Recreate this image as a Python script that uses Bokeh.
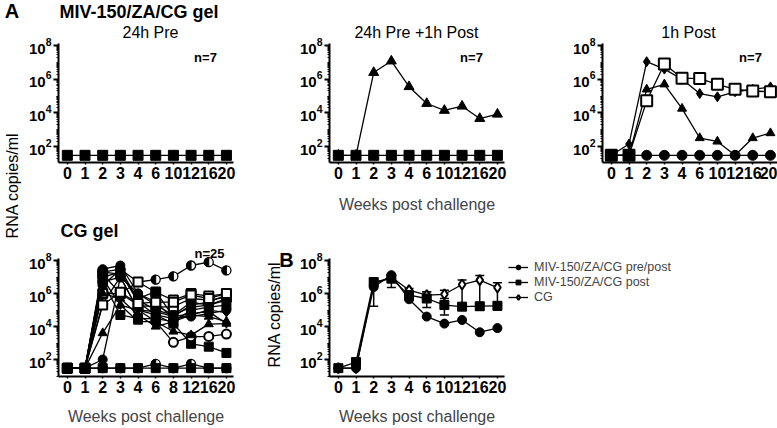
import math
from bokeh.plotting import figure
from bokeh.models import (Range1d, FixedTicker, Label, Legend, LegendItem,
                          Whisker, TeeHead, ColumnDataSource)
from bokeh.layouts import row, column
from bokeh.embed import file_html
from bokeh.resources import INLINE

FONT = "Liberation Sans"
NAN = float("nan")

# ---------------- data ----------------
weeks_a = ["0", "1", "2", "3", "4", "6", "10", "12", "16", "20"]
weeks_cg = ["0", "1", "2", "3", "4", "6", "8", "12", "16", "20"]
y_ticks = [1e2, 1e4, 1e6, 1e8]

# A: MIV-150/ZA/CG gel, 24h Pre
pre_sq = [30, 30, 30, 30, 30, 30, 30, 30, 30, 30]
# A: 24h Pre + 1h Post
pp_tri = [30, 30, 2.5e6, 1.2e7, 3.6e5, 3.6e4, 1.4e4, 2.5e4, 4.6e3, 8.3e3]
pp_sq = [30, 30, 30, 30, 30, 30, 30, 30, 30, 30]
# A: 1h Post
post_circ = [30, 30, 30, 30, 30, 30, 30, 30, 30, 30]
post_dia = [30, 140, 1.1e7, 4.0e6, 1.0e6, 1.4e5, 9.0e4, 1.8e5, 2.5e5, 3.5e5]
post_tri = [30, 30, 2.5e5, 5.0e5, 1.8e4, 320, 200, 30, 320, 630]
post_osq = [30, 30, 5.2e4, 8.0e6, 1.15e6, 1.1e6, 5.0e5, 2.5e5, 2.0e5, 1.8e5]
post_sq = [30, 30, NAN, NAN, NAN, NAN, NAN, NAN, NAN, NAN]

# A: CG gel (individual animals)
cg_01 = [30, 30, 2.0e7, 3.0e7, 5.0e6, 7.0e6, 1.1e7, 5.0e7, 8.0e7, 2.5e7]
cg_02 = [30, 30, 1.5e7, 1.0e6, 5.0e6, 1.2e6, 4.0e5, 1.0e6, 7.0e5, 1.0e6]
cg_03 = [30, 30, 3.0e7, 5.0e7, 1.0e6, 2.0e5, 5.0e4, 3.0e5, 2.0e5, 5.0e5]
cg_04 = [30, 30, 1.0e7, 2.0e7, 3.0e5, 5.0e4, 1.5e4, 900, 600, 250]
cg_05 = [30, 30, 5.0e6, 1.0e7, 1.0e5, 2.0e4, 1.1e3, 2.4e3, 2.5e3, 3.5e3]
cg_06 = [30, 30, 4.0e3, 2.0e5, 2.0e4, 2.0e4, 5.0e3, 3.0e3, 1.4e4, 1.5e4]
cg_07 = [30, 30, 2.5e5, 1.0e7, 1.0e5, 5.0e4, 3.0e4, 5.0e4, 1.0e5, 7.0e4]
cg_08 = [30, 30, 1.0e6, 1.0e6, 2.0e5, 1.5e5, 1.6e5, 5.0e5, 4.0e5, 6.0e5]
cg_09 = [30, 30, 5.0e6, 5.0e4, 3.0e4, 3.0e4, 2.0e4, 1.0e5, 1.5e5, 2.0e5]
cg_10 = [30, 30, 100, 1.0e7, 1.0e6, 3.0e5, 3.0e4, 4.0e4, 6.0e4, 1.0e5]
cg_11 = [30, 30, 2.0e7, 1.5e7, 5.0e5, 1.3e6, 4.0e4, 2.0e5, 3.0e5, 8.0e5]
cg_12 = [30, 30, 1.0e6, 5.0e5, 5.0e4, 1.0e4, 2.0e4, 5.0e4, 4.0e4, 2.0e4]
cg_13 = [30, 30, 8.0e6, 2.0e5, 1.0e5, 8.0e4, 4.0e4, 6.0e4, 8.0e4, 1.5e4]
cg_14 = [30, 30, 3.0e6, 3.0e7, 4.0e5, 1.0e5, 5.0e4, 1.5e5, 2.0e5, 4.0e5]
cg_17 = [30, 30, 2.0e5, 1.2e6, 2.5e5, 3.0e5, 3.0e5, 8.0e5, 5.0e5, 1.0e6]
cg_16 = [30, 30, 30, 30, 30, 55, 30, 55, 30, 30]
cg_15 = [30, 30, 30, 30, 30, 30, 30, 30, 30, 30]

# B: group means with error bars
b_pp = [30, 30, 2.5e6, 1.3e7, 4.5e5, 4.0e4, 1.5e4, 2.5e4, 4.5e3, 8.0e3]
b_post = [30, 70, 5.0e6, 8.0e6, 8.0e5, 5.0e5, 2.0e5, 1.6e5, 1.7e5, 1.8e5]
b_post_lo = [30, 70, 1.7e5, 2.3e6, 6.0e5, 1.4e5, 5.0e4, 1.0e5, 1.0e5, 1.0e5]
b_post_hi = [30, 70, 6.0e6, 1.0e7, 1.0e6, 1.3e6, 5.0e5, 2.5e5, 2.5e5, 3.0e5]
b_cg = [30, 30, 4.0e6, 1.0e7, 1.6e6, 8.0e5, 9.0e5, 3.5e6, 6.5e6, 2.3e6]
b_cg_lo = [30, 30, 2.5e6, 7.0e6, 1.2e6, 3.0e5, 2.0e5, 2.0e5, 2.0e5, 2.0e5]
b_cg_hi = [30, 30, 6.0e6, 1.3e7, 2.0e6, 1.3e6, 1.6e6, 6.6e6, 1.25e7, 4.5e6]
legend_labels = ["MIV-150/ZA/CG pre/post", "MIV-150/ZA/CG post", "CG"]

# ---------------- helpers ----------------
minor = [m * 10 ** e for e in range(1, 8) for m in range(2, 10)] + [10 ** e for e in (1, 3, 5, 7)]


def panel(labels, fw, fh, bl, br, bt, bb, y_lo, y_hi, y_top, xlabel=None):
    p = figure(frame_width=fw, frame_height=fh, y_axis_type="log",
               x_range=Range1d(-0.5, 9.4), y_range=Range1d(10 ** y_lo, 10 ** y_top),
               output_backend="svg", toolbar_location=None,
               min_border_left=bl, min_border_right=br,
               min_border_top=bt, min_border_bottom=bb)
    p.outline_line_color = None
    p.grid.grid_line_color = None
    p.background_fill_color = "white"
    xa = p.xaxis[0]
    xa.ticker = FixedTicker(ticks=list(range(len(labels))))
    xa.major_label_overrides = {i: s for i, s in enumerate(labels)}
    xa.major_label_text_font = FONT
    xa.major_label_text_font_style = "bold"
    xa.major_label_text_font_size = "16px"
    xa.major_label_text_color = "black"
    xa.axis_line_width = 2
    xa.major_tick_in = 0
    xa.major_tick_out = 2
    xa.major_tick_line_width = 1.5
    xa.minor_tick_line_color = None
    xa.major_label_standoff = 2
    ya = p.yaxis[0]
    ya.bounds = (10 ** y_lo, 10 ** y_hi)
    ya.ticker = FixedTicker(ticks=y_ticks, minor_ticks=minor)
    ya.major_label_text_font = FONT
    ya.major_label_text_font_style = "bold"
    ya.major_label_text_font_size = "15px"
    ya.major_label_text_color = "black"
    ya.axis_line_width = 2
    ya.major_tick_in = 0
    ya.major_tick_out = 5
    ya.major_tick_line_width = 2
    ya.minor_tick_in = 0
    ya.minor_tick_out = 2
    ya.minor_tick_line_width = 1
    ya.major_label_standoff = 2
    if xlabel:
        xa.axis_label = xlabel
        xa.axis_label_text_font = FONT
        xa.axis_label_text_font_style = "normal"
        xa.axis_label_text_font_size = "16px"
        xa.axis_label_standoff = 12
    return p


def series(p, vals, kind, size=10):
    x = list(range(len(vals)))
    ln = p.line(x, vals, line_color="black", line_width=1.3)
    if kind == "half":
        sc = p.scatter(x, vals, marker="circle", size=size, fill_color="white",
                       line_color="black", line_width=1.3)
        p.wedge(x, vals, radius=size / 2, radius_units="screen",
                start_angle=math.pi / 2, end_angle=3 * math.pi / 2,
                fill_color="black", line_color="black")
    elif kind.startswith("o_"):
        sc = p.scatter(x, vals, marker=kind[2:], size=size, fill_color="white",
                       line_color="black", line_width=2)
    else:
        sc = p.scatter(x, vals, marker=kind, size=size, fill_color="black",
                       line_color="black")
    return ln, sc


def text(p, s, x, y, size, bold=False, align="left", angle=0.0):
    p.add_layout(Label(x=x, y=y, x_units="screen", y_units="screen", text=s,
                       text_font=FONT, text_font_size=size,
                       text_font_style="bold" if bold else "normal",
                       text_align=align, text_baseline="middle",
                       text_color="black", angle=angle))


def blank(w, h):
    b = figure(frame_width=w, frame_height=h, x_range=Range1d(0, w),
               y_range=Range1d(0, h), x_axis_location=None, y_axis_location=None,
               min_border=0, toolbar_location=None, output_backend="svg")
    b.outline_line_color = None
    b.grid.grid_line_color = None
    return b


# ---------------- left strip ----------------
strip = blank(24, 428)
text(strip, "A", 11.5, 418, "20px", bold=True, align="center")
text(strip, "RNA copies/ml", 12, 243, "16px", align="center", angle=math.pi / 2)

# ---------------- row 1 (frame 0..162) ----------------
R1 = dict(y_lo=1.05, y_hi=8.12, y_top=10.68)
f1 = panel(weeks_a, 175, 162, 34, 56, 0, 52, **R1)
series(f1, pre_sq, "square", 10)
text(f1, "MIV-150/ZA/CG gel", 1, 151, "18px", bold=True)
text(f1, "24h Pre", 92, 130, "16px", align="center")
text(f1, "n=7", 147, 105, "13px", bold=True, align="center")

f2 = panel(weeks_a, 175, 162, 40, 58, 0, 52, xlabel="Weeks post challenge", **R1)
f2.xaxis[0].axis_label_standoff = 14
series(f2, pp_tri, "triangle", 10)
series(f2, pp_sq, "square", 10)
text(f2, "24h Pre +1h Post", 87, 130, "16px", align="center")
text(f2, "n=7", 142, 105, "13px", bold=True, align="center")

f3 = panel(weeks_a, 175, 162, 40, 0, 0, 52, **R1)
series(f3, post_circ, "circle", 10)
series(f3, post_tri, "triangle", 9)
series(f3, post_dia, "diamond", 10)
series(f3, post_osq, "o_square", 11)
series(f3, post_sq, "square", 10)
text(f3, "1h Post", 86, 130, "16px", align="center")
text(f3, "n=7", 148, 105, "13px", bold=True, align="center")

# ---------------- row 2 (frame 214..375) ----------------
R2 = dict(y_lo=0.97, y_hi=8.1, y_top=10.73)
f4 = panel(weeks_cg, 175, 161, 34, 30, 0, 53, xlabel="Weeks post challenge", **R2)
cg_series = [(cg_01, "half"), (cg_02, "o_square"), (cg_03, "circle"), (cg_04, "square"),
             (cg_05, "o_circle"), (cg_06, "triangle"), (cg_07, "diamond"),
             (cg_08, "o_square"), (cg_09, "square"), (cg_10, "circle"),
             (cg_11, "square"), (cg_12, "triangle"), (cg_13, "diamond"),
             (cg_14, "circle"), (cg_17, "o_square"), (cg_16, "half"), (cg_15, "square")]
for vals, kind in cg_series:
    series(f4, vals, kind, 9)
text(f4, "CG gel", 2, 146, "18px", bold=True)
text(f4, "n=25", 151, 123, "13px", bold=True, align="center")

# strip between the CG gel panel and panel B
mid = blank(31, 214)
text(mid, "B", 23, 170, "20px", bold=True, align="center")
text(mid, "RNA copies/ml", 11, 115, "16px", align="center", angle=math.pi / 2)

f5 = panel(weeks_a, 175, 161, 35, 0, 0, 53, xlabel="Weeks post challenge", **R2)


def whiskers(p, lo, hi):
    idx = [i for i in range(len(lo)) if hi[i] > lo[i]]
    src = ColumnDataSource(dict(x=idx, lo=[lo[i] for i in idx], hi=[hi[i] for i in idx]))
    p.add_layout(Whisker(source=src, base="x", lower="lo", upper="hi",
                         line_color="black", line_width=1.5,
                         upper_head=TeeHead(size=9, line_width=1.5, line_color="black"),
                         lower_head=TeeHead(size=9, line_width=1.5, line_color="black")))


whiskers(f5, b_cg_lo, b_cg_hi)
whiskers(f5, b_post_lo, b_post_hi)
r_cg = series(f5, b_cg, "o_diamond", 10)
r_post = series(f5, b_post, "square", 9)
r_pp = series(f5, b_pp, "circle", 9)

legend = Legend(items=[LegendItem(label=legend_labels[0], renderers=list(r_pp)),
                       LegendItem(label=legend_labels[1], renderers=list(r_post)),
                       LegendItem(label=legend_labels[2], renderers=list(r_cg))],
                location=(4, 72), label_text_font=FONT, label_text_font_size="12.5px",
                label_height=12, glyph_height=12, glyph_width=20, spacing=1,
                padding=0, margin=0, label_standoff=6,
                border_line_color=None, background_fill_alpha=0)
f5.add_layout(legend, "right")

layout = row(strip, column(row(f1, f2, f3), row(f4, mid, f5)))
open("out.html", "w").write(file_html(layout, INLINE))
